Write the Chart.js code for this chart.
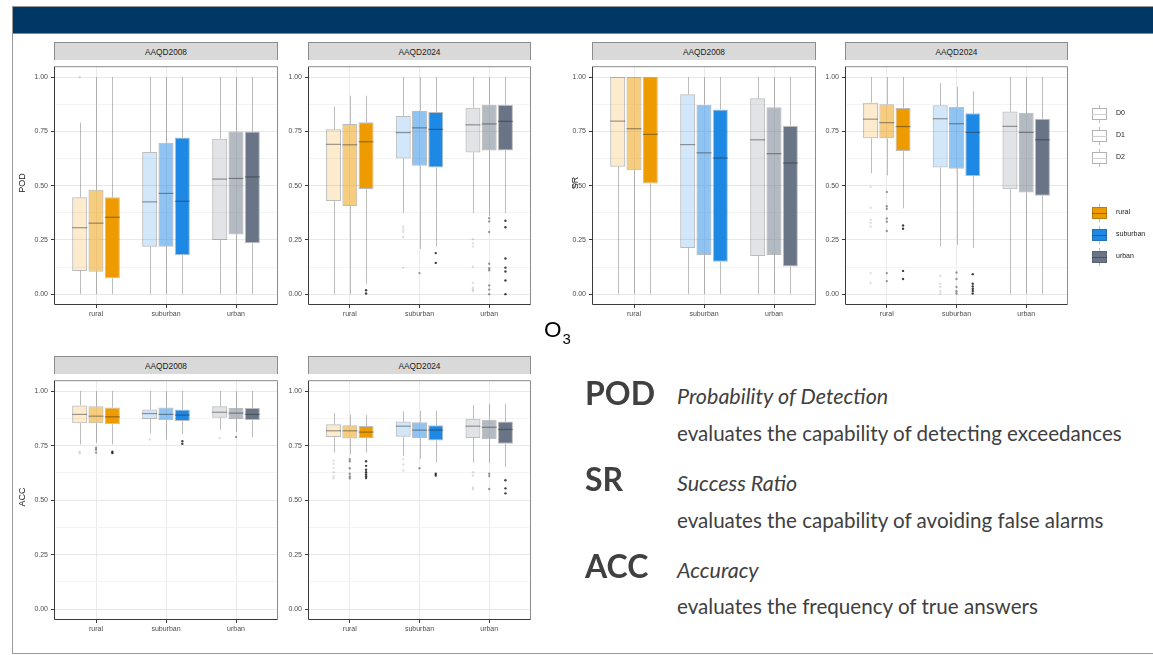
<!DOCTYPE html>
<html lang="en">
<head>
<meta charset="UTF-8">
<title>O3 - POD / SR / ACC</title>
<script src="https://cdn.jsdelivr.net/npm/chart.js"></script>
<style>
    body {
        margin: 0;
        width: 1153px;
        height: 655px;
        background: #fff;
        font-family: "Liberation Sans", Arial, sans-serif;
        overflow: hidden;
        position: relative;
    }
    .frame {
        position: absolute;
        left: 12px; top: 6px; width: 1145px; height: 646px;
        border-left: 1px solid #9a9a9a;
        border-top: 1px solid #9a9a9a;
        border-bottom: 1px solid #9a9a9a;
    }
    .band {
        position: absolute;
        left: 13px; top: 7px; width: 1140px; height: 26px;
        background: #003865;
        border-bottom: 1px solid #6f8fb0;
    }
    canvas { position: absolute; }
    .strip {
        position: absolute;
        height: 18px;
        background: #d9d9d9;
        border: 1px solid #8c8c8c;
        border-bottom: none;
        box-sizing: border-box;
        font-size: 8.3px;
        line-height: 18px;
        text-align: center;
        color: #1a1a1a;
    }
    .ytitle {
        position: absolute;
        font-size: 9px;
        color: #1a1a1a;
        transform: translate(-50%, -50%) rotate(-90deg);
        white-space: nowrap;
    }
    .lg-key { position: absolute; width: 15px; height: 12px; box-sizing: border-box; }
    .lg-lab { position: absolute; font-size: 7px; color: #1a1a1a; }
    .txt { position: absolute; font-family: Lato, "Open Sans", sans-serif; color: #404040; white-space: nowrap; line-height: normal; }
    .big { font-weight: bold; font-size: 32px; }
    .it { font-style: italic; font-size: 21.5px; }
    .desc { font-size: 20.6px; }
</style>
</head>
<body>
<div class="frame"></div>
<div class="band"></div>
<div id="stage"></div>
<div id="legend"></div>

<div class="txt" style="left:544px; top:317px; font-family:'Liberation Sans'; font-size:22.5px; color:#000;">O<span style="font-size:15px; position:relative; top:7px; left:1px;">3</span></div>

<div class="txt big" style="left:585px; top:373px;">POD</div>
<div class="txt it" style="left:677px; top:383px;">Probability of Detection</div>
<div class="txt desc" style="left:677px; top:421px;">evaluates the capability of detecting exceedances</div>
<div class="txt big" style="left:585px; top:459px;">SR</div>
<div class="txt it" style="left:677px; top:470px;">Success Ratio</div>
<div class="txt desc" style="left:677px; top:508px;">evaluates the capability of avoiding false alarms</div>
<div class="txt big" style="left:585px; top:546px;">ACC</div>
<div class="txt it" style="left:677px; top:557px;">Accuracy</div>
<div class="txt desc" style="left:677px; top:594px;">evaluates the frequency of true answers</div>

<script>
// categories and groups
const categories = ["rural", "suburban", "urban"];
const groups = ["D0", "D1", "D2"];
const yTicks = [0, 0.125, 0.25, 0.375, 0.5, 0.625, 0.75, 0.875, 1];

// box stats per group (D0, D1, D2), per category: [low whisker, q1, median, q3, high whisker]
const pod2008 = [
    [[0, 0.107, 0.306, 0.446, 0.79], [0, 0.218, 0.425, 0.655, 1], [0, 0.249, 0.530, 0.716, 1]],
    [[0, 0.103, 0.327, 0.481, 1], [0, 0.218, 0.464, 0.697, 1], [0, 0.275, 0.533, 0.749, 1]],
    [[0, 0.073, 0.354, 0.446, 1], [0, 0.179, 0.428, 0.722, 1], [0, 0.234, 0.540, 0.749, 1]]
];
const pod2008Out = [
    [[1.0], [], []],
    [[], [], []],
    [[], [], []]
];

const pod2024 = [
    [[0, 0.429, 0.690, 0.759, 0.863], [0.375, 0.625, 0.744, 0.821, 1], [0.375, 0.653, 0.780, 0.859, 1]],
    [[0, 0.406, 0.688, 0.784, 0.914], [0.208, 0.591, 0.766, 0.844, 1], [0.36, 0.662, 0.784, 0.873, 1]],
    [[0.048, 0.484, 0.702, 0.792, 0.914], [0.219, 0.583, 0.759, 0.839, 1], [0.375, 0.662, 0.796, 0.873, 1]]
];
const pod2024Out = [
    [[], [0.311, 0.298, 0.286, 0.263, 0.122], [0.253, 0.234, 0.219, 0.126, 0.052, 0.030, 0.021, 0.015]],
    [[], [0.097], [0.35, 0.335, 0.286, 0.14, 0.119, 0.11, 0.04, 0.021, 0.0]],
    [[0.018, 0.003], [0.189, 0.144], [0.338, 0.308, 0.164, 0.122, 0.104, 0.063, 0.0]]
];

const sr2008 = [
    [[0, 0.587, 0.797, 1, 1], [0, 0.213, 0.689, 0.921, 1], [0, 0.176, 0.711, 0.902, 1]],
    [[0, 0.571, 0.762, 1, 1], [0, 0.180, 0.651, 0.873, 1], [0, 0.180, 0.647, 0.861, 1]],
    [[0, 0.510, 0.736, 1, 1], [0, 0.149, 0.627, 0.851, 1], [0, 0.127, 0.604, 0.775, 1]]
];
const sr2008Out = [
    [[], [], []],
    [[], [], []],
    [[], [], []]
];

const sr2024 = [
    [[0.557, 0.718, 0.806, 0.882, 1], [0.219, 0.583, 0.808, 0.870, 0.972], [0, 0.483, 0.773, 0.841, 1]],
    [[0.547, 0.718, 0.790, 0.875, 1], [0.227, 0.578, 0.785, 0.863, 0.957], [0, 0.468, 0.745, 0.835, 1]],
    [[0.395, 0.659, 0.772, 0.858, 1], [0.212, 0.544, 0.745, 0.833, 0.934], [0, 0.453, 0.711, 0.808, 1]]
];
const sr2024Out = [
    [[0.495, 0.398, 0.343, 0.328, 0.311, 0.097, 0.051], [0.085, 0.048, 0.033, 0.015, 0.003], []],
    [[0.471, 0.405, 0.393, 0.349, 0.334, 0.291, 0.097, 0.06], [0.1, 0.07, 0.033, 0.013, 0.003], []],
    [[0.316, 0.301, 0.107, 0.07], [0.092, 0.048, 0.036, 0.025, 0.015, 0.003], []]
];

const acc2008 = [
    [[0.755, 0.852, 0.893, 0.934, 1], [0.807, 0.872, 0.897, 0.916, 1], [0.822, 0.878, 0.903, 0.930, 1]],
    [[0.763, 0.852, 0.885, 0.930, 1], [0.778, 0.866, 0.893, 0.925, 1], [0.812, 0.872, 0.899, 0.922, 1]],
    [[0.755, 0.848, 0.882, 0.925, 1], [0.803, 0.863, 0.890, 0.916, 1], [0.788, 0.867, 0.893, 0.922, 1]]
];
const acc2008Out = [
    [[0.722, 0.715], [0.778], [0.785]],
    [[0.740, 0.731, 0.718], [], [0.79]],
    [[0.722, 0.716], [0.770, 0.758], []]
];

const acc2024 = [
    [[0.718, 0.790, 0.818, 0.848, 0.9], [0.703, 0.791, 0.839, 0.860, 0.907], [0.673, 0.785, 0.839, 0.873, 0.937]],
    [[0.710, 0.782, 0.818, 0.843, 0.893], [0.688, 0.785, 0.821, 0.857, 0.910], [0.670, 0.779, 0.834, 0.869, 0.942]],
    [[0.718, 0.785, 0.812, 0.840, 0.890], [0.673, 0.773, 0.821, 0.843, 0.910], [0.651, 0.758, 0.824, 0.860, 0.942]]
];
const acc2024Out = [
    [[0.681, 0.666, 0.648, 0.628, 0.610, 0.6], [0.688, 0.663, 0.636], [0.628, 0.613, 0.558, 0.549]],
    [[0.688, 0.678, 0.646, 0.621, 0.609, 0.6], [0.646], [0.621, 0.610, 0.551]],
    [[0.678, 0.657, 0.639, 0.628, 0.618, 0.609, 0.601], [0.621, 0.613], [0.591, 0.554, 0.531]]
];

// colours
const baseRGB = ["238,155,0", "30,136,229", "105,117,134"];
const groupAlpha = [0.2, 0.5, 1];
const lineCol = "rgba(60,60,60,0.34)";
const medianCol = "rgba(40,40,40,0.45)";
const outlierCol = ["rgba(0,0,0,0.13)", "rgba(0,0,0,0.38)", "rgba(0,0,0,0.75)"];

function isMajor(v) {
    return Math.abs(v * 4 - Math.round(v * 4)) < 1e-9;
}

// whiskers behind the boxes, medians and outliers on top
const boxPlugin = {
    id: 'boxes',
    beforeDatasetsDraw(chart) {
        const ctx = chart.ctx, y = chart.scales.y;
        ctx.save();
        ctx.strokeStyle = lineCol;
        ctx.lineWidth = 1;
        chart.data.datasets.forEach((ds, d) => {
            chart.getDatasetMeta(d).data.forEach((bar, k) => {
                const s = ds.stats[k];
                const x = Math.round(bar.x) + 0.5;
                ctx.beginPath();
                ctx.moveTo(x, y.getPixelForValue(s[0]));
                ctx.lineTo(x, y.getPixelForValue(s[1]));
                ctx.moveTo(x, y.getPixelForValue(s[3]));
                ctx.lineTo(x, y.getPixelForValue(s[4]));
                ctx.stroke();
            });
        });
        ctx.restore();
    },
    afterDatasetsDraw(chart) {
        const ctx = chart.ctx, y = chart.scales.y;
        ctx.save();
        chart.data.datasets.forEach((ds, d) => {
            chart.getDatasetMeta(d).data.forEach((bar, k) => {
                const s = ds.stats[k];
                const my = y.getPixelForValue(s[2]);
                ctx.strokeStyle = medianCol;
                ctx.lineWidth = 1.2;
                ctx.beginPath();
                ctx.moveTo(bar.x - bar.width / 2, my);
                ctx.lineTo(bar.x + bar.width / 2, my);
                ctx.stroke();
                ctx.fillStyle = outlierCol[d];
                ds.outliers[k].forEach(v => {
                    ctx.beginPath();
                    ctx.arc(bar.x, y.getPixelForValue(v), 1.2, 0, Math.PI * 2);
                    ctx.fill();
                });
            });
        });
        ctx.restore();
    },
    afterDraw(chart) {
        const a = chart.chartArea, ctx = chart.ctx;
        ctx.save();
        ctx.lineWidth = 1;
        ctx.strokeStyle = "#8c8c8c";
        ctx.beginPath();
        ctx.moveTo(a.left + 0.5, a.top + 0.5);
        ctx.lineTo(a.right - 0.5, a.top + 0.5);
        ctx.lineTo(a.right - 0.5, a.bottom - 0.5);
        ctx.stroke();
        ctx.strokeStyle = "#3a3a3a";
        ctx.beginPath();
        ctx.moveTo(a.left + 0.5, a.top + 0.5);
        ctx.lineTo(a.left + 0.5, a.bottom - 0.5);
        ctx.lineTo(a.right - 0.5, a.bottom - 0.5);
        ctx.stroke();
        ctx.restore();
    }
};

const stage = document.getElementById('stage');

function makePanel(left, top, right, bottom, title, stats, outliers) {
    const yw = 30, xh = 22;
    const canvas = document.createElement('canvas');
    canvas.width = right - left + yw + 2;
    canvas.height = bottom - top + xh + 1;
    canvas.style.left = (left - yw) + 'px';
    canvas.style.top = (top - 1) + 'px';
    stage.appendChild(canvas);

    const strip = document.createElement('div');
    strip.className = 'strip';
    strip.style.left = left + 'px';
    strip.style.top = (top - 18) + 'px';
    strip.style.width = (right - left) + 'px';
    strip.textContent = title;
    stage.appendChild(strip);

    const datasets = groups.map((g, d) => ({
        label: g,
        data: categories.map((c, k) => ({ x: k + 1, y: [stats[d][k][1], stats[d][k][3]] })),
        backgroundColor: baseRGB.map(rgb => `rgba(${rgb},${groupAlpha[d]})`),
        borderColor: lineCol,
        borderWidth: 1,
        borderSkipped: false,
        categoryPercentage: 0.7,
        barPercentage: 0.92,
        stats: stats[d],
        outliers: outliers[d]
    }));

    new Chart(canvas.getContext('2d'), {
        type: 'bar',
        data: { datasets: datasets },
        options: {
            responsive: false,
            animation: false,
            layout: { padding: { top: 1, right: 2, left: 0, bottom: 0 } },
            plugins: { legend: { display: false }, tooltip: { enabled: false } },
            scales: {
                x: {
                    type: 'linear',
                    min: 0.4,
                    max: 3.6,
                    offset: false,
                    afterBuildTicks: s => { s.ticks = categories.map((c, k) => ({ value: k + 1 })); },
                    afterFit: s => { s.height = xh; },
                    border: { display: false },
                    grid: { offset: false, color: '#ebebeb', tickColor: '#3a3a3a', tickLength: 3 },
                    ticks: {
                        callback: v => categories[v - 1],
                        color: '#4d4d4d',
                        font: { size: 7, family: 'Liberation Sans' },
                        padding: 2,
                        maxRotation: 0
                    }
                },
                y: {
                    min: -0.05,
                    max: 1.05,
                    afterBuildTicks: s => { s.ticks = yTicks.map(v => ({ value: v })); },
                    afterFit: s => { s.width = yw; },
                    border: { display: false },
                    grid: {
                        color: c => isMajor(c.tick.value) ? '#e8e8e8' : '#f4f4f4',
                        tickColor: c => isMajor(c.tick.value) ? '#3a3a3a' : 'rgba(0,0,0,0)',
                        tickLength: 3
                    },
                    ticks: {
                        callback: v => isMajor(v) ? v.toFixed(2) : '',
                        color: '#4d4d4d',
                        font: { size: 7, family: 'Liberation Sans' },
                        padding: 3
                    }
                }
            }
        },
        plugins: [boxPlugin]
    });
}

makePanel(54, 60, 278, 305, 'AAQD2008', pod2008, pod2008Out);
makePanel(308, 60, 531, 305, 'AAQD2024', pod2024, pod2024Out);
makePanel(592, 60, 816, 305, 'AAQD2008', sr2008, sr2008Out);
makePanel(845, 60, 1068, 305, 'AAQD2024', sr2024, sr2024Out);
makePanel(54, 374, 278, 620, 'AAQD2008', acc2008, acc2008Out);
makePanel(308, 374, 531, 620, 'AAQD2024', acc2024, acc2024Out);

// y axis titles
[["POD", 22, 183], ["SR", 575, 183], ["ACC", 22, 497]].forEach(t => {
    const el = document.createElement('div');
    el.className = 'ytitle';
    el.textContent = t[0];
    el.style.left = t[1] + 'px';
    el.style.top = t[2] + 'px';
    stage.appendChild(el);
});

// legend keys (ggplot style boxplot glyphs)
const legend = document.getElementById('legend');
function legendKey(cy, fill, border, median, label) {
    const w = document.createElement('div');
    w.style.cssText = `position:absolute; left:1099px; top:${cy - 9}px; width:1px; height:18px; background:rgba(60,60,60,0.35);`;
    legend.appendChild(w);
    const k = document.createElement('div');
    k.className = 'lg-key';
    k.style.left = '1092px';
    k.style.top = (cy - 6) + 'px';
    k.style.background = fill;
    k.style.border = '1px solid ' + border;
    legend.appendChild(k);
    const m = document.createElement('div');
    m.style.cssText = `position:absolute; left:1092px; top:${cy}px; width:15px; height:1px; background:${median};`;
    legend.appendChild(m);
    const l = document.createElement('div');
    l.className = 'lg-lab';
    l.textContent = label;
    l.style.left = '1116px';
    l.style.top = (cy - 5) + 'px';
    legend.appendChild(l);
}
groups.forEach((g, d) => legendKey(114 + d * 22, '#fff', '#b3b3b3', '#cfcfcf', g));
categories.forEach((c, k) => legendKey(213 + k * 22, `rgb(${baseRGB[k]})`, 'rgba(60,60,60,0.3)', 'rgba(40,40,40,0.45)', c));
</script>
</body>
</html>
